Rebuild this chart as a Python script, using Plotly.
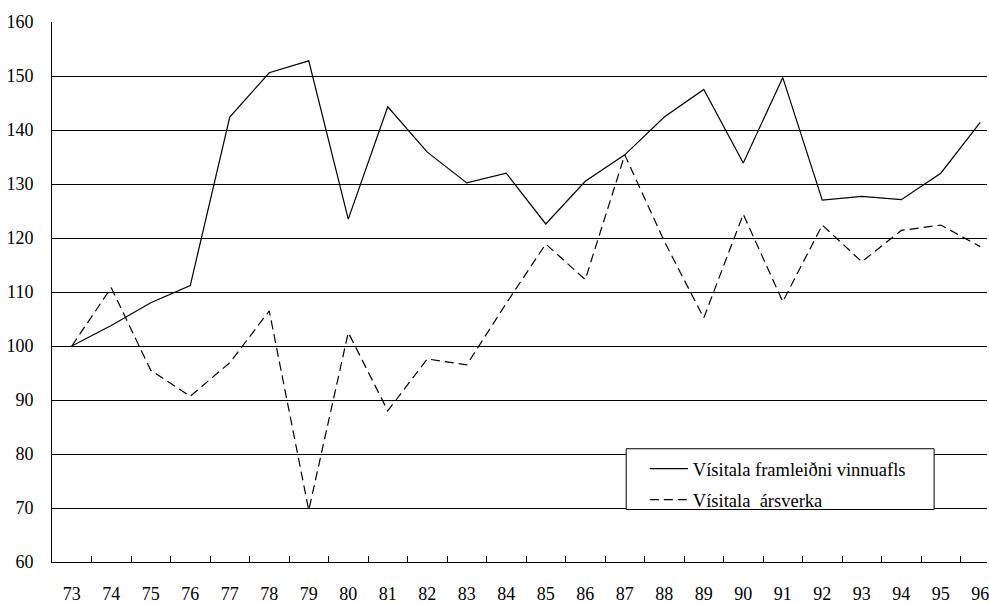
import plotly.graph_objects as go

years = ["73", "74", "75", "76", "77", "78", "79", "80", "81", "82", "83", "84",
         "85", "86", "87", "88", "89", "90", "91", "92", "93", "94", "95", "96"]
framleidni = [100.0, 103.8, 108.0, 111.2, 142.4, 150.6, 152.8, 123.5, 144.3, 135.9, 130.2, 132.0,
              122.6, 130.5, 135.4, 142.4, 147.5, 133.9, 149.7, 127.0, 127.7, 127.1, 132.0, 141.4]
arsverk = [100.0, 110.8, 95.5, 90.7, 96.9, 106.5, 69.6, 102.5, 88.0, 97.6, 96.5, 107.9,
           118.9, 112.3, 135.4, 119.4, 105.2, 124.4, 108.2, 122.4, 115.6, 121.4, 122.4, 118.4]
y_ticks = [60, 70, 80, 90, 100, 110, 120, 130, 140, 150, 160]

FONT = "'Liberation Serif', 'Times New Roman', serif"

fig = go.Figure()
fig.add_trace(go.Scatter(x=years, y=framleidni, mode="lines",
                         name="Vísitala framleiðni vinnuafls",
                         line=dict(color="black", width=1.2),
                         legendgroup="a"))
fig.add_trace(go.Scatter(x=years, y=arsverk, mode="lines",
                         name="Vísitala  ársverka",
                         line=dict(color="black", width=1.2, dash="9px,5px"),
                         legendgroup="b"))

W, H = 989, 604
L, R, T, B = 51.7, 0, 22, 37
pw = W - L - R
ph = H - T - B

def px_x(x):
    return (x - L) / pw

def px_y(y):
    return (H - B - y) / ph

fig.add_shape(type="rect", xref="paper", yref="paper",
              x0=px_x(627.3), x1=px_x(936), y0=px_y(514), y1=px_y(452.7),
              line=dict(color="black", width=1), fillcolor="white", layer="above")

fig.update_layout(
    width=W, height=H,
    margin=dict(l=L, r=R, t=T, b=B, pad=0),
    paper_bgcolor="white", plot_bgcolor="white",
    font=dict(family=FONT, color="black", size=18),
    showlegend=True,
    legend=dict(x=px_x(646), y=px_y(454), xanchor="left", yanchor="top",
                bgcolor="rgba(0,0,0,0)", borderwidth=0,
                font=dict(family=FONT, size=18.5, color="black"),
                itemwidth=38, tracegroupgap=4),
    xaxis=dict(type="category", range=[-0.5, 23.17], showgrid=False,
               showline=True, linecolor="black", linewidth=1,
               ticks="inside", tickson="boundaries", ticklen=6, tickcolor="black",
               tickfont=dict(family=FONT, size=18, color="black"),
               ticklabelstandoff=15, zeroline=False),
    yaxis=dict(range=[60, 160], tickvals=y_ticks, showgrid=True, gridcolor="black",
               gridwidth=1, showline=True, linecolor="black", linewidth=1,
               ticks="", tickfont=dict(family=FONT, size=18, color="black"),
               ticklabelstandoff=14, zeroline=False),
)

fig.write_html("out.html", config={"displayModeBar": False},
               post_script="document.body.style.margin='0px';")
